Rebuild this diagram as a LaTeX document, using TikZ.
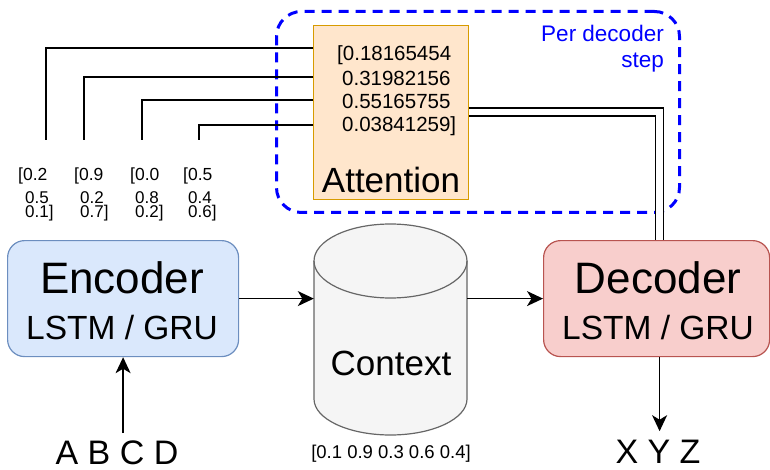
\documentclass[tikz,border=0pt]{standalone}
\usepackage{fontspec}
\setmainfont{Liberation Sans}
\usetikzlibrary{arrows.meta,calc}
\definecolor{encfill}{HTML}{DAE8FC}
\definecolor{encline}{HTML}{6C8EBF}
\definecolor{decfill}{HTML}{F8CECC}
\definecolor{decline}{HTML}{B85450}
\definecolor{attfill}{HTML}{FFE6CC}
\definecolor{attline}{HTML}{D79B00}
\definecolor{cylfill}{HTML}{F5F5F5}
\definecolor{cylline}{HTML}{666666}
\definecolor{grpblue}{HTML}{0000FF}
\newcommand{\fs}[1]{\fontsize{#1}{#1}\selectfont}
\tikzset{
  box/.style={draw, line width=1.2pt, rounded corners=17pt, inner sep=0pt, anchor=north west},
  conn/.style={line width=1.5pt, black},
  arr/.style={conn, -{Stealth[length=16pt, width=15pt, inset=4.5pt]}},
  lbl/.style={anchor=base, inner sep=0pt},
  vec/.style={anchor=base west, inner sep=0pt, font=\fs{17.5}},
  vecpair/.style={anchor=base west, inner sep=0pt, align=left, font=\fontsize{17}{14.5}\selectfont},
  attnum/.style={anchor=base west, inner sep=0pt, font=\fs{20.5}},
}
\begin{document}
\begin{tikzpicture}[x=1pt,y=-1pt]
\useasboundingbox (0,0) rectangle (770,470);

% dashed group
\node[draw=grpblue, line width=3pt, dash pattern=on 10pt off 7pt, rounded corners=25pt,
      minimum width=403pt, minimum height=201pt, inner sep=0pt, anchor=north west] (grp) at (275,10) {};
\node[anchor=base east, inner sep=0pt, text=grpblue, font=\fs{22.5}] (grpT1) at (664,42) {Per decoder};
\node[anchor=base east, inner sep=0pt, text=grpblue, font=\fs{22.5}] (grpT2) at (664,68) {step};

% boxes
\node[box, draw=encline, fill=encfill, minimum width=231pt, minimum height=116pt] (enc) at (7,240) {};
\node[box, draw=decline, fill=decfill, minimum width=226pt, minimum height=116pt] (dec) at (543,240) {};
\node[box, draw=attline, fill=attfill, rounded corners=0pt, minimum width=155pt, minimum height=174pt] (att) at (313,25) {};

% cylinder
\fill[cylfill] (314,261) -- (314,399) arc[start angle=180, end angle=360, x radius=76.5pt, y radius=36pt]
  -- (467,261) arc[start angle=0, end angle=180, x radius=76.5pt, y radius=37pt] -- cycle;
\draw[cylline, line width=1.2pt] (314,261) -- (314,399) arc[start angle=180, end angle=360, x radius=76.5pt, y radius=36pt]
  -- (467,261) arc[start angle=0, end angle=180, x radius=76.5pt, y radius=37pt] -- cycle;
\draw[cylline, line width=1.2pt] (314,261) arc[start angle=180, end angle=360, x radius=76.5pt, y radius=37pt];
\node[minimum width=153pt, minimum height=138pt, inner sep=0pt] (ctx) at (390.5,330) {};

% texts in boxes
\node[lbl, font=\fs{44}] (encT) at (122,293) {Encoder};
\node[lbl, font=\fs{33.5}] (encS) at (122,339) {LSTM / GRU};
\node[lbl, font=\fs{44}] (decT) at (658,293) {Decoder};
\node[lbl, font=\fs{33.5}] (decS) at (658,339) {LSTM / GRU};
\node[lbl, font=\fs{35}] (ctxT) at (391,375) {Context};
\node[lbl, font=\fs{35}] (attT) at (391,193) {Attention};

\node[attnum] (a1) at (337,61) {[0.18165454};
\node[attnum] (a2) at (342,86) {0.31982156};
\node[attnum] (a3) at (342,109) {0.55165755};
\node[attnum] (a4) at (342,132) {0.03841259]};

% encoder vectors
\node[vec] (e1a) at (18,181) {[0.2};
\node[vecpair] (e1b) at (25,218) {0.5\\0.1]};
\node[vec] (e2a) at (74,181) {[0.9};
\node[vecpair] (e2b) at (80,218) {0.2\\0.7]};
\node[vec] (e3a) at (130,181) {[0.0};
\node[vecpair] (e3b) at (135,218) {0.8\\0.2]};
\node[vec] (e4a) at (183,181) {[0.5};
\node[vecpair] (e4b) at (188,218) {0.4\\0.6]};

\node[lbl, font=\fs{18.5}] (ctxV) at (391,458) {[0.1 0.9 0.3 0.6 0.4]};
\node[lbl, font=\fs{34}] (inT) at (117,464) {A B C D};
\node[lbl, font=\fs{34}] (outT) at (658,463) {X Y Z};

% attention lines to encoder vectors
\coordinate (v1) at (46,140);
\coordinate (v2) at (84,140);
\coordinate (v3) at (142,140);
\coordinate (v4) at (199,140);
\draw[conn] (att.west |- 0,48) -| (v1);
\draw[conn] (att.west |- 0,77) -| (v2);
\draw[conn] (att.west |- 0,100) -| (v3);
\draw[conn] (att.west |- 0,125) -| (v4);

% attention to decoder (double line)
\draw[line width=1.3pt, double=white, double distance=6.7pt] (att.east |- 0,112) -| ([xshift=3pt]dec.north);

% main flow
\coordinate (inTop) at ($(enc.south)+(0,76)$);
\coordinate (outEnd) at ($(dec.south)+(3,74)$);
\draw[arr] (enc.east) -- (ctx.west |- enc.east);
\draw[arr] (ctx.east |- dec.west) -- (dec.west);
\draw[arr] (inTop) -- (enc.south);
\draw[arr] ([xshift=3pt]dec.south) -- (outEnd);
\end{tikzpicture}
\end{document}
